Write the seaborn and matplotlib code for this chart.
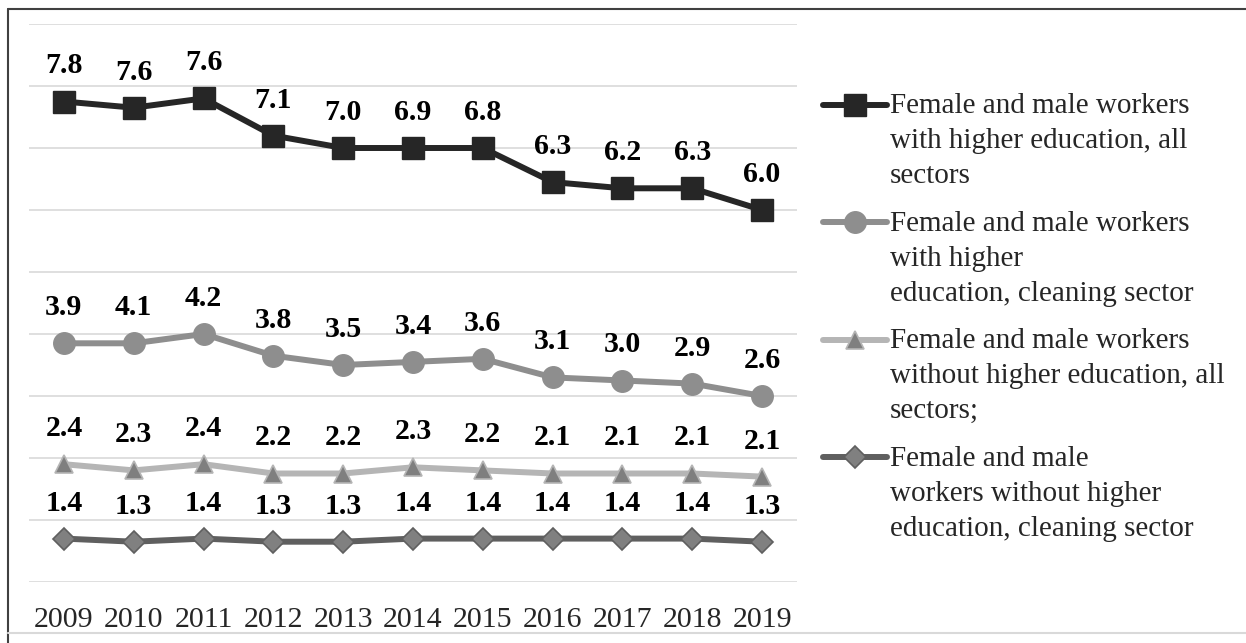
import numpy as np
import pandas as pd
import matplotlib
matplotlib.use("Agg")
import matplotlib.pyplot as plt
import seaborn as sns
from matplotlib.lines import Line2D

sns.set_theme(style="white")
plt.rcParams["font.family"] = ["Liberation Serif", "DejaVu Serif"]

years = ["2009", "2010", "2011", "2012", "2013", "2014", "2015", "2016", "2017", "2018", "2019"]

# Series, bottom of the stack first
no_higher_clean = [1.4, 1.3, 1.4, 1.3, 1.3, 1.4, 1.4, 1.4, 1.4, 1.4, 1.3]
no_higher_all = [2.4, 2.3, 2.4, 2.2, 2.2, 2.3, 2.2, 2.1, 2.1, 2.1, 2.1]
higher_clean = [3.9, 4.1, 4.2, 3.8, 3.5, 3.4, 3.6, 3.1, 3.0, 2.9, 2.6]
higher_all = [7.8, 7.6, 7.6, 7.1, 7.0, 6.9, 6.8, 6.3, 6.2, 6.3, 6.0]

labels = [
    "Female and male\nworkers without higher\neducation, cleaning sector",
    "Female and male workers\nwithout higher education, all\nsectors;",
    "Female and male workers\nwith higher\neducation, cleaning sector",
    "Female and male workers\nwith higher education, all\nsectors",
]
series = [no_higher_clean, no_higher_all, higher_clean, higher_all]

styles = [
    dict(color="#5f5f5f", marker="D", ms=10.8, mfc="#808080", mec="#5f5f5f", mew=1.2),
    dict(color="#b5b5b5", marker="^", ms=13, mfc="#7f7f7f", mec="#b5b5b5", mew=1.2),
    dict(color="#8e8e8e", marker="o", ms=15.5, mfc="#8e8e8e", mec="#8e8e8e", mew=1),
    dict(color="#262626", marker="s", ms=15.5, mfc="#262626", mec="#262626", mew=1),
]

# Stacked line chart: each series sits on top of the ones below it
stacked = np.cumsum(np.array(series), axis=0)

fig = plt.figure(figsize=(12.46, 6.43), dpi=100)
ax = fig.add_axes([29 / 1246, 1 - 582 / 643, (797 - 29) / 1246, (582 - 24) / 643])

x = np.arange(len(years))
handles = []
for vals, cum, lab, st in zip(series, stacked, labels, styles):
    df = pd.DataFrame({"x": x, "y": cum})
    sns.lineplot(data=df, x="x", y="y", ax=ax, color=st["color"], lw=4.3,
                 marker=st["marker"], markersize=st["ms"],
                 markerfacecolor=st["mfc"], markeredgecolor=st["mec"],
                 markeredgewidth=st["mew"], zorder=3)
    for xi, yi, v in zip(x, cum, vals):
        ax.annotate(f"{v:.1f}", (xi, yi), xytext=(0, 20.2), textcoords="offset points",
                    ha="center", va="baseline", fontsize=21.5, fontweight="bold",
                    color="black", zorder=4)
    handles.append(Line2D([], [], color=st["color"], lw=4.3, marker=st["marker"],
                          markersize=st["ms"], markerfacecolor=st["mfc"],
                          markeredgecolor=st["mec"], markeredgewidth=st["mew"], label=lab))

ax.set_xlim(-0.5, len(years) - 0.5)
ax.set_ylim(0, 18)
ax.set_yticks(np.arange(0, 19, 2))
ax.set_yticklabels([])
ax.set_xticks(x)
ax.set_xticklabels(years, fontsize=21.5)
ax.tick_params(axis="x", length=0, pad=18)
ax.tick_params(axis="y", length=0)
ax.set_xlabel("")
ax.set_ylabel("")
ax.grid(axis="y", color="#d9d9d9", lw=1.2, zorder=0)
ax.grid(axis="x", visible=False)
for sp in ax.spines.values():
    sp.set_visible(False)

leg = fig.legend(handles=handles[::-1], loc="upper left",
                 bbox_to_anchor=(823 / 1246, 1 - 93 / 643), frameon=False,
                 fontsize=21, borderpad=0, borderaxespad=0, handlelength=2.2,
                 handletextpad=0.1, labelspacing=0.74, handleheight=1.05, numpoints=1)
for t in leg.get_texts():
    t.set_linespacing(1.45)
for col in leg._legend_handle_box.get_children():
    for row in col.get_children():
        row.align = "top"

# Outer frame of the chart area
fig.add_artist(Line2D([8 / 1246, 8 / 1246], [0, 1 - 9 / 643], transform=fig.transFigure,
                      color="#404040", lw=1.5))
fig.add_artist(Line2D([8 / 1246, 1], [1 - 9 / 643, 1 - 9 / 643], transform=fig.transFigure,
                      color="#404040", lw=1.5))
fig.add_artist(Line2D([8 / 1246, 1], [1 - 633 / 643, 1 - 633 / 643], transform=fig.transFigure,
                      color="#d9d9d9", lw=1.5))

fig.savefig("out.png", dpi=100)
